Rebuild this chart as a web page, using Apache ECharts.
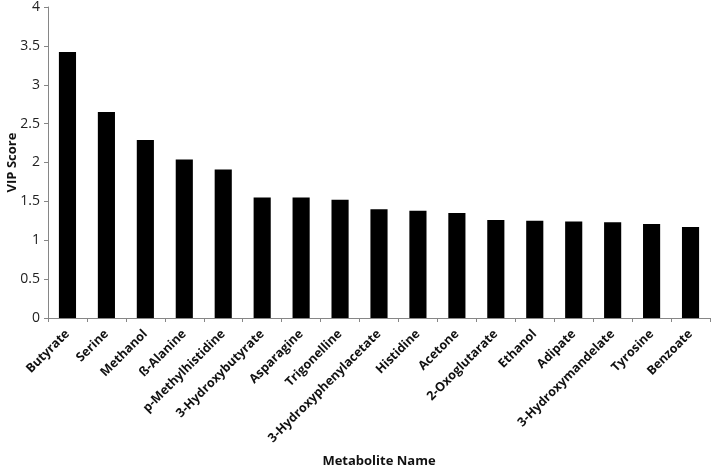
<!DOCTYPE html>
<html><head><meta charset="utf-8">
<script src="https://cdn.jsdelivr.net/npm/echarts@6/dist/echarts.min.js"></script>
<style>html,body{margin:0;padding:0;background:#fff}#c{width:713px;height:470px}</style>
</head><body><div id="c"></div>
<script>
var categories = ["Butyrate","Serine","Methanol","ß-Alanine","p-Methylhistidine","3-Hydroxybutyrate","Asparagine","Trigonelline","3-Hydroxyphenylacetate","Histidine","Acetone","2-Oxoglutarate","Ethanol","Adipate","3-Hydroxymandelate","Tyrosine","Benzoate"];
var vipScores = [3.42,2.65,2.29,2.04,1.91,1.55,1.55,1.52,1.40,1.38,1.35,1.26,1.25,1.24,1.23,1.21,1.17];
var chart = echarts.init(document.getElementById('c'));
var font = '"Open Sans", Lato, sans-serif';
chart.setOption({
  animation:false,
  grid:{left:48,right:3,top:7,bottom:152,containLabel:false,outerBoundsMode:'none'},
  xAxis:{type:'category',data:categories,
    name:'Metabolite Name',nameLocation:'middle',nameGap:137,nameMoveOverlap:false,
    nameTextStyle:{fontFamily:font,fontWeight:'bold',fontSize:13,color:'#111'},
    axisLine:{lineStyle:{color:'#868686',width:1}},
    axisTick:{show:true,alignWithLabel:false,length:4,lineStyle:{color:'#868686'}},
    axisLabel:{interval:0,rotate:45,fontFamily:font,fontWeight:'bold',fontSize:12.5,color:'#111',margin:14}
  },
  yAxis:{type:'value',min:0,max:4,interval:0.5,
    name:'VIP Score',nameLocation:'middle',nameGap:29,nameMoveOverlap:false,
    nameTextStyle:{fontFamily:font,fontWeight:'bold',fontSize:13,color:'#111'},
    axisLine:{show:true,lineStyle:{color:'#868686'}},
    axisTick:{show:true,length:4,lineStyle:{color:'#868686'}},
    splitLine:{show:false},
    axisLabel:{fontFamily:font,fontSize:14,color:'#222',margin:8}
  },
  series:[{type:'bar',data:vipScores,barCategoryGap:'56%',itemStyle:{color:'#000'}}]
});
</script></body></html>
